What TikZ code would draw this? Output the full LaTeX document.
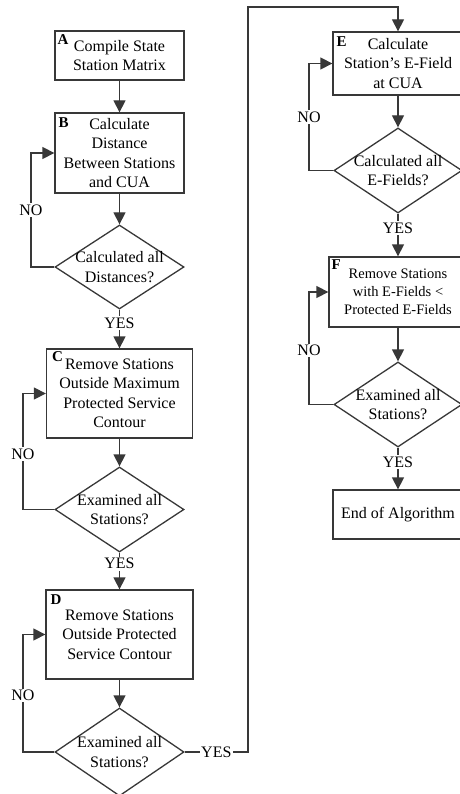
\documentclass[tikz,border=0pt]{standalone}
\usepackage{fontspec}
\setmainfont{Liberation Serif}
\usetikzlibrary{shapes.geometric,arrows.meta}
\begin{document}
\begin{tikzpicture}[x=1pt,y=-1pt,
  line/.style={draw=black!78, line width=1.3pt},
  arr/.style={line, -{Triangle[length=12pt,width=12pt]}},
  box/.style={line, fill=white, rectangle, inner sep=0pt, align=center, font=\fontsize{16}{19.5}\selectfont},
  dia/.style={line, fill=white, diamond, inner sep=0pt},
  dtext/.style={align=center, inner sep=0pt, font=\fontsize{16}{19.5}\selectfont},
  lbl/.style={fill=white, inner sep=1.5pt, font=\fontsize{16}{19.5}\selectfont},
  tag/.style={anchor=north west, inner sep=0pt, font=\fontsize{15}{15}\selectfont\bfseries}
]
\useasboundingbox (0,0) rectangle (459,794);

% left column
\node[box, minimum width=129pt, minimum height=49pt] (A) at (119.5,55.5) {Compile State\\Station Matrix};
\node[box, minimum width=129pt, minimum height=80pt] (B) at (119.5,153) {Calculate\\Distance\\Between Stations\\and CUA};
\node[dia, minimum width=129pt, minimum height=84pt] (d1) at (119.5,267) {};
\node[dtext] (d1t) at (d1) {Calculated all\\Distances?};
\node[box, minimum width=146pt, minimum height=89pt] (C) at (119.5,393.5) {Remove Stations\\Outside Maximum\\Protected Service\\Contour};
\node[dia, minimum width=129pt, minimum height=85pt] (d2) at (119.5,509.5) {};
\node[dtext] (d2t) at (d2) {Examined all\\Stations?};
\node[box, minimum width=147pt, minimum height=89pt] (D) at (119.5,634.5) {Remove Stations\\Outside Protected\\Service Contour};
\node[dia, minimum width=129pt, minimum height=88pt] (d3) at (119.5,752) {};
\node[dtext] (d3t) at (d3) {Examined all\\Stations?};

% right column
\node[box, minimum width=130pt, minimum height=63pt] (E) at (398,63.5) {Calculate\\Station’s E-Field\\at CUA};
\node[dia, minimum width=128pt, minimum height=85pt] (d4) at (398,170.5) {};
\node[dtext] (d4t) at (d4) {Calculated all\\E-Fields?};
\node[box, minimum width=138pt, minimum height=70pt, font=\fontsize{14.5}{18}\selectfont] (F) at (398,292) {Remove Stations\\with E-Fields <\\Protected E-Fields};
\node[dia, minimum width=128pt, minimum height=85pt] (d5) at (398,404.5) {};
\node[dtext] (d5t) at (d5) {Examined all\\Stations?};
\node[box, minimum width=130pt, minimum height=49pt] (End) at (398,514.5) {End of Algorithm};

% tags
\node[tag] (tA) at ([shift={(3,4)}]A.north west) {A};
\node[tag] (tB) at ([shift={(4,5)}]B.north west) {B};
\node[tag] (tC) at ([shift={(6,3)}]C.north west) {C};
\node[tag] (tD) at ([shift={(5,5)}]D.north west) {D};
\node[tag] (tE) at ([shift={(4,5)}]E.north west) {E};
\node[tag] (tF) at ([shift={(3,3)}]F.north west) {F};

% forward arrows
\draw[arr] (A) -- (B);
\draw[arr] (B) -- (d1);
\draw[arr] (d1) -- node[lbl, pos=0.35] (y1) {YES} (C);
\draw[arr] (C) -- (d2);
\draw[arr] (d2) -- node[lbl, pos=0.3] (y2) {YES} (D);
\draw[arr] (D) -- (d3);
\coordinate (c1) at (248,752);
\coordinate (c2) at (248,7);
\draw[arr] (d3.east) -- node[lbl] (y3) {YES} (c1) -- (c2) -| (E.north);
\draw[arr] (E) -- (d4);
\draw[arr] (d4) -- node[lbl, pos=0.34] (y4) {YES} (F);
\draw[arr] (F) -- (d5);
\draw[arr] (d5) -- node[lbl, pos=0.35] (y5) {YES} (End);

% NO loops
\coordinate (n1) at (31,267);
\coordinate (n2) at (23,509.5);
\coordinate (n3) at (23,752);
\coordinate (n4) at (309,170.5);
\coordinate (n5) at (309,404.5);
\draw[arr] (d1.west) -- (n1) |- node[lbl, pos=0.25] (no1) {NO} (B.west);
\draw[arr] (d2.west) -- (n2) |- node[lbl, pos=0.24] (no2) {NO} (C.west);
\draw[arr] (d3.west) -- (n3) |- node[lbl, pos=0.24] (no3) {NO} (D.west);
\draw[arr] (d4.west) -- (n4) |- node[lbl, pos=0.25] (no4) {NO} (E.west);
\draw[arr] (d5.west) -- (n5) |- node[lbl, pos=0.24] (no5) {NO} (F.west);
\end{tikzpicture}
\end{document}
